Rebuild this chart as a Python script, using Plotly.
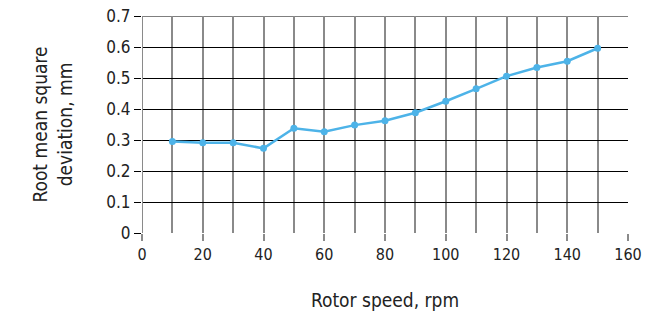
import plotly.graph_objects as go

# rotor speed, rpm
speed = [10, 20, 30, 40, 50, 60, 70, 80, 90, 100, 110, 120, 130, 140, 150]
# root mean square deviation, mm
rms_dev = [0.295, 0.291, 0.291, 0.273, 0.338, 0.327, 0.348, 0.362, 0.388,
           0.425, 0.465, 0.506, 0.534, 0.554, 0.596]

font_family = "DejaVu Sans Condensed, sans-serif"

fig = go.Figure()

fig.add_trace(go.Scatter(
    x=speed, y=rms_dev,
    mode='lines+markers',
    line=dict(color='#4db3e8', width=2.5),
    marker=dict(color='#4db3e8', size=7),
    showlegend=False
))

# axis line at x=0 sticks out a bit above the top grid line
fig.add_shape(type='line', x0=0, x1=0, y0=0, y1=0.725, xref='x', yref='y',
              line=dict(color='#8a8a8a', width=2))
# top grid line (plotly drops the one sitting on the plot edge)
fig.add_shape(type='line', x0=0, x1=1, xref='paper', y0=0.7, y1=0.7, yref='y',
              line=dict(color='black', width=1), layer='below')

fig.update_layout(
    width=646, height=324,
    margin=dict(l=142, r=18, t=16, b=91),
    paper_bgcolor='white',
    plot_bgcolor='white',
    font=dict(family=font_family, size=19, color='#222222'),
    xaxis=dict(
        range=[0, 160],
        dtick=20,
        tick0=0,
        automargin=False,
        showgrid=True,
        gridcolor='#8a8a8a',
        gridwidth=2,
        minor=dict(dtick=10, showgrid=True, gridcolor='#8a8a8a', gridwidth=2),
        ticks='outside', ticklen=7, tickwidth=2, tickcolor='#8a8a8a',
        tickfont=dict(size=16),
        ticklabeloverflow='allow',
        showline=False,
        zeroline=False,
        title=dict(text='Rotor speed, rpm', font=dict(size=19), standoff=30),
    ),
    yaxis=dict(
        range=[0, 0.7],
        dtick=0.1,
        tickformat='.1~f',
        automargin=False,
        showgrid=True,
        gridcolor='black',
        gridwidth=1,
        ticks='outside', ticklen=7, tickwidth=1, tickcolor='black',
        tickfont=dict(size=17),
        ticklabeloverflow='allow',
        showline=False,
        zeroline=False,
        title=dict(text='Root mean square<br>deviation, mm', font=dict(size=19), standoff=28),
    ),
)

# drop the default 8px page margin so the 646x324 figure fills the window
fig.write_html("out.html",
               config={"displayModeBar": False},
               post_script="document.body.style.margin='0';"
                           "document.body.style.overflow='hidden';")
